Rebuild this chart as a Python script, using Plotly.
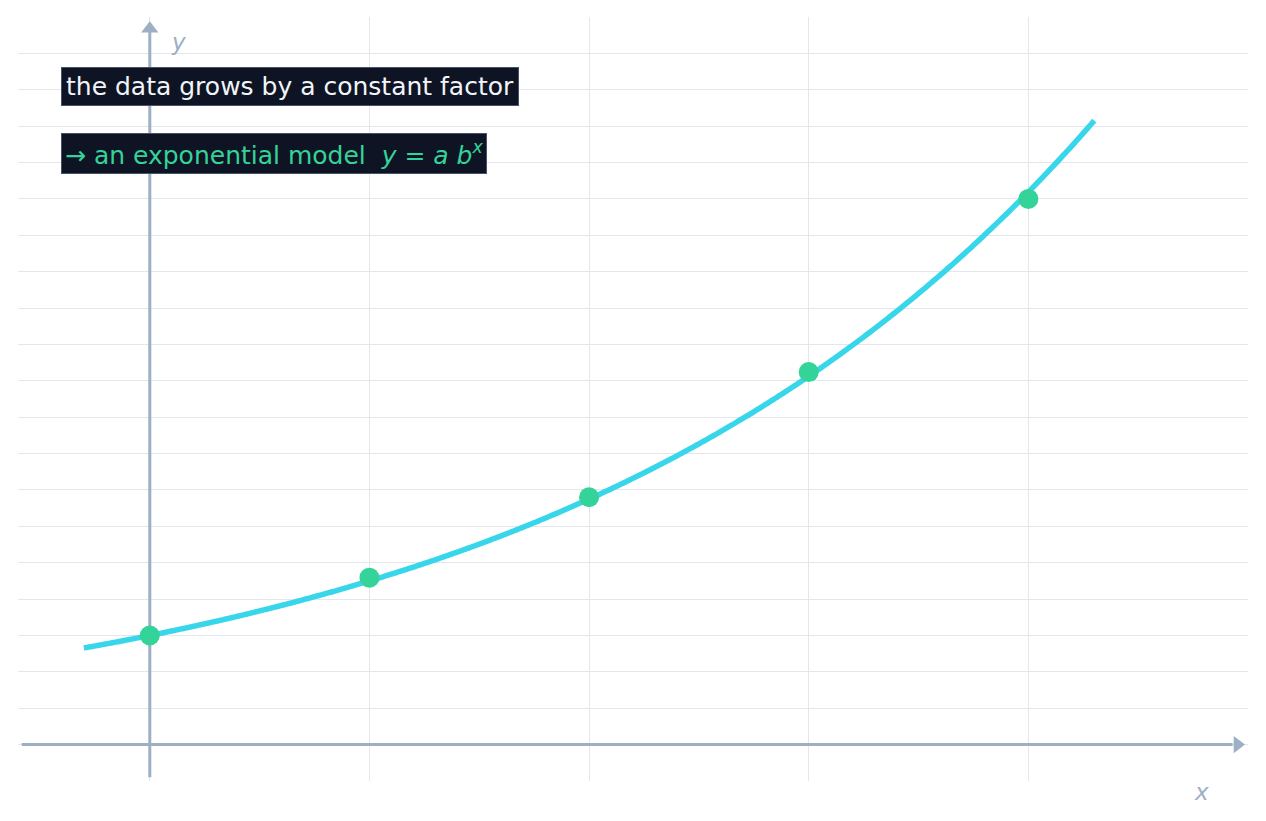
import numpy as np
import plotly.graph_objects as go

# data points (grow by a constant factor)
x_pts = [0, 1, 2, 3, 4]
y_pts = [3.0, 4.59, 6.8, 10.24, 15.0]

# model y = a * b^x
a = 3.0
b = 1.5
x_curve = np.linspace(-0.3, 4.3, 300)
y_curve = a * b ** x_curve

axis_col = "#9dafc4"

fig = go.Figure()

# axis lines with arrow heads (drawn as traces so they sit above the grid)
fig.add_trace(go.Scatter(
    x=[-0.583, 4.93], y=[0, 0], mode="lines",
    line=dict(color=axis_col, width=3), hoverinfo="skip", showlegend=False
))
fig.add_trace(go.Scatter(
    x=[0, 0], y=[-0.9, 19.6], mode="lines",
    line=dict(color=axis_col, width=3), hoverinfo="skip", showlegend=False
))
fig.add_trace(go.Scatter(
    x=[4.952, 0], y=[0, 19.68], mode="markers",
    marker=dict(symbol=["triangle-right", "triangle-up"], size=15, color=axis_col),
    hoverinfo="skip", showlegend=False
))

fig.add_trace(go.Scatter(
    x=x_curve.tolist(), y=y_curve.tolist(), mode="lines",
    line=dict(color="#38d6ea", width=5.5, shape="spline", simplify=False),
    hoverinfo="skip", showlegend=False
))
fig.add_trace(go.Scatter(
    x=x_pts, y=y_pts, mode="markers",
    marker=dict(color="#34d399", size=20),
    showlegend=False
))

fig.add_annotation(x=0.13, y=19.3, text="<i>y</i>", showarrow=False,
                   font=dict(size=23, color=axis_col))
fig.add_annotation(x=4.79, y=-0.0144, yref="paper", yanchor="middle",
                   text="<i>x</i>", showarrow=False,
                   font=dict(size=23, color=axis_col))

# text boxes
fig.add_annotation(x=-0.405, y=18.1, xanchor="left", showarrow=False,
                   text="the data grows by a constant factor",
                   font=dict(size=25, color="#f1f5f9"),
                   bgcolor="#0f1424", bordercolor="#46516a", borderwidth=1, borderpad=4)
fig.add_annotation(x=-0.405, y=16.26, xanchor="left", showarrow=False,
                   text="→ an exponential model  <i>y</i> = <i>a</i> <i>b</i><sup><i>x</i></sup>",
                   font=dict(size=25, color="#34d399"),
                   bgcolor="#0f1424", bordercolor="#46516a", borderwidth=1, borderpad=3)

fig.update_layout(
    width=1250, height=805,
    margin=dict(l=10, r=10, t=9, b=32),
    plot_bgcolor="white", paper_bgcolor="white",
    font=dict(family="DejaVu Sans"),
    xaxis=dict(range=[-0.6, 5.0], dtick=1, tick0=0, showticklabels=False,
               gridcolor="#e3e6ea", gridwidth=1, zeroline=False, showline=False),
    yaxis=dict(range=[-1, 20], dtick=1, tick0=0, showticklabels=False,
               gridcolor="#e3e6ea", gridwidth=1, zeroline=False, showline=False),
)

fig.write_html("out.html")
